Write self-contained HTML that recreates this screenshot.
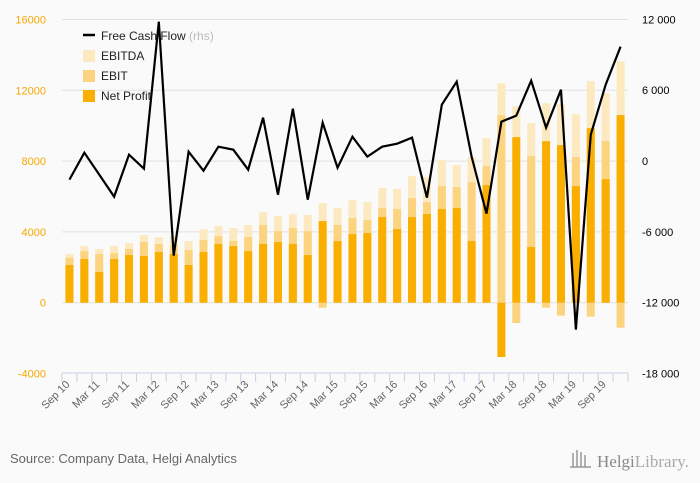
<!DOCTYPE html>
<html><head><meta charset="utf-8"><style>
body{margin:0;background:#fafafa;font-family:"Liberation Sans",sans-serif;}
svg{display:block}
</style></head><body>
<svg id="chart" width="700" height="483" xmlns="http://www.w3.org/2000/svg">
<rect width="700" height="483" fill="#fafafa"/>
<g id="grid"></g>
<g id="bars"></g>
<g id="line"></g>
<g id="axes"></g>
<g font-size="12" fill="#222">
<line x1="83" y1="35" x2="95" y2="35" stroke="#000" stroke-width="2.5"/>
<text x="101" y="40">Free Cash Flow <tspan fill="#bbb">(rhs)</tspan></text>
<rect x="83" y="50" width="12" height="12" fill="#fde9bf"/>
<text x="101" y="60">EBITDA</text>
<rect x="83" y="70" width="12" height="12" fill="#fcd47f"/>
<text x="101" y="80">EBIT</text>
<rect x="83" y="90" width="12" height="12" fill="#f9ae00"/>
<text x="101" y="100">Net Profit</text>
</g>
<text x="10" y="463" font-size="13" fill="#666">Source: Company Data, Helgi Analytics</text>
<g>
<g stroke="#999" stroke-width="1.5"><line x1="573" y1="467" x2="573" y2="453"/><line x1="577" y1="467" x2="577" y2="450"/><line x1="581" y1="467" x2="581" y2="452"/><line x1="585" y1="467" x2="585" y2="455"/><line x1="570" y1="467" x2="591" y2="467"/></g>
<text x="597" y="467" font-family="Liberation Serif,serif" font-size="17" fill="#888">Helgi<tspan fill="#aaa">Library.</tspan></text>
</g>
</svg>
<script>
const categories=["Sep 10","Dec 10","Mar 11","Jun 11","Sep 11","Dec 11","Mar 12","Jun 12","Sep 12","Dec 12","Mar 13","Jun 13","Sep 13","Dec 13","Mar 14","Jun 14","Sep 14","Dec 14","Mar 15","Jun 15","Sep 15","Dec 15","Mar 16","Jun 16","Sep 16","Dec 16","Mar 17","Jun 17","Sep 17","Dec 17","Mar 18","Jun 18","Sep 18","Dec 18","Mar 19","Jun 19","Sep 19","Dec 19"];
const netProfit=[2127,2465,1730,2465,2690,2635,2860,2750,2127,2860,3310,3200,2917,3310,3425,3310,2690,4610,3480,3877,3933,4837,4160,4837,5006,5290,5345,3480,6643,-3068,9354,3143,9128,8902,6587,9862,6982,10596];
const ebit=[2540,2917,2750,2800,3030,3425,3310,3250,2975,3540,3760,3480,3710,4385,4046,4215,4046,-282,4385,4780,4667,5345,5290,5910,5684,6587,6530,6813,7716,10596,-1150,8280,-282,-734,8224,-790,9128,-1411];
const ebitda=[2750,3200,3030,3200,3370,3820,3710,3760,3480,4160,4330,4215,4385,5120,4890,5000,4950,5630,5345,5800,5684,6474,6418,7150,7095,8055,7773,8224,9297,12400,11100,10144,11273,11217,10650,12515,11838,13644];
const fcf=[-1581,706,-1158,-3022,537,-650,11804,-8020,790,-819,1214,960,-734,3671,-2852,4434,-3276,3247,-565,2061,367,1214,1468,1977,-3106,4772,6721,367,-4462,3332,3840,6806,2824,6043,-14289,2231,6467,9686];
const leftTicks=[-4000,0,4000,8000,12000,16000];
const rightTicks=["-18 000","-12 000","-6 000","0","6 000","12 000"];
const rightTickVals=[-18000,-12000,-6000,0,6000,12000];

const NS="http://www.w3.org/2000/svg";
const X0=62,X1=628,Y0=302.7,PX=70.8/4000,RY0=161,RPX=70.8/6000;
const band=(X1-X0)/categories.length;
const xC=i=>X0+band*(i+0.5);
const yL=v=>Y0-v*PX;
const yR=v=>RY0-v*RPX;
function mk(tag,attrs,parent){const e=document.createElementNS(NS,tag);for(const k in attrs)e.setAttribute(k,attrs[k]);parent.appendChild(e);return e;}
const grid=document.getElementById('grid'),bars=document.getElementById('bars'),line=document.getElementById('line'),axes=document.getElementById('axes');
leftTicks.forEach((v,i)=>{
 if(v>-4000){const g=mk('line',{x1:X0,x2:X1,y1:yL(v),y2:yL(v),stroke:'#e2e2e2','stroke-width':1},grid);
 
 }
 const t=mk('text',{x:46,y:yL(v)+4,'text-anchor':'end','font-size':11,fill:'#f5a800'},axes);t.textContent=v;
 
 
});
rightTickVals.forEach((v,i)=>{
 const t=mk('text',{x:642,y:yR(v)+4,'font-size':11,fill:'#000'},axes);t.textContent=rightTicks[i];
 
 
});
const bw=8;
function bar(v,fill,i,name){const y=Math.min(yL(0),yL(v));const h=Math.abs(yL(v)-yL(0));
 const r=mk('rect',{x:xC(i)-bw/2,y:y,width:bw,height:h,fill:fill},bars);
 
 }
categories.forEach((c,i)=>{
 bar(ebitda[i],'#fde9bf',i,'ebitda-bar');
 bar(ebit[i],'#fcd47f',i,'ebit-bar');
 bar(netProfit[i],'#f9ae00',i,'net-profit-bar');
});
const pts=fcf.map((v,i)=>xC(i)+','+yR(v)).join(' ');
const pl=mk('polyline',{points:pts,fill:'none',stroke:'#000','stroke-width':2.2,'stroke-linejoin':'miter'},line);


const AY=373;
const ax=mk('line',{x1:X0,x2:X1,y1:AY,y2:AY,stroke:'#c5d0e6','stroke-width':1},axes);


for(let i=0;i<=categories.length;i++){const t=mk('line',{x1:X0+band*i,x2:X0+band*i,y1:AY,y2:AY+9,stroke:'#c5d0e6'},axes);
 
 }
categories.forEach((c,i)=>{if(i%2)return;
 const x=xC(i)+1,y=AY+12;
 const t=mk('text',{x:x,y:y,'text-anchor':'end','font-size':11,fill:'#666',transform:`rotate(-45 ${x} ${y})`},axes);t.textContent=c;
 
 
});
</script>
</body></html>
